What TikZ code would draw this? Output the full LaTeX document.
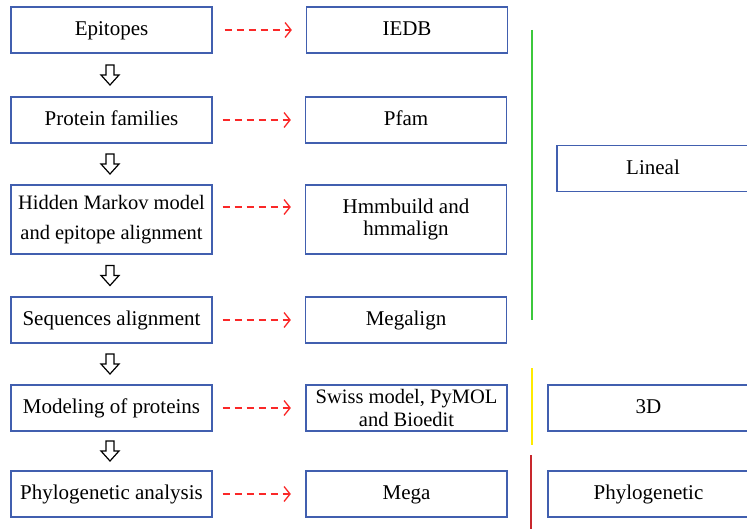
\documentclass[tikz,border=0pt]{standalone}
\usepackage{fontspec}
\setmainfont{Liberation Serif}
\usetikzlibrary{arrows.meta,calc}
\definecolor{boxblue}{RGB}{65,95,175}
\definecolor{dashred}{RGB}{250,40,40}
\definecolor{lgreen}{RGB}{60,200,60}
\definecolor{lyellow}{RGB}{255,235,0}
\definecolor{dred}{RGB}{200,40,45}
\tikzset{
  box/.style={draw=boxblue, line width=1.3pt, minimum width=201pt, minimum height=46pt,
    align=center, inner sep=1pt, font=\fontsize{21}{24}\selectfont},
  onebox/.style={box, text height=15.5pt, text depth=4pt},
  tallbox/.style={box, minimum height=69pt},
  dasharrow/.style={draw=dashred, line width=1.3pt, dash pattern=on 7pt off 5pt,
    -{Straight Barb[length=6pt,width=15pt,line width=1.3pt]}},
  hollow/.pic={\draw[line width=1.2pt, fill=white] (-4,-10)--(4,-10)--(4,0)--(9,0)--(0,10)--(-9,0)--(-4,0)--cycle;},
  vline/.style={line width=1.2pt}
}
\begin{document}
\begin{tikzpicture}[x=1pt,y=-1pt]
\useasboundingbox (0,0) rectangle (747,529);
% left column
\node[onebox] (e1) at (111.5,30) {Epitopes};
\node[onebox] (e2) at (111.5,120) {Protein families};
\node[tallbox, font=\fontsize{20.5}{30}\selectfont] (e3) at (111.5,219.5) {Hidden Markov model\\and epitope alignment};
\node[onebox] (e4) at (111.5,320) {Sequences alignment};
\node[onebox] (e5) at (111.5,408) {Modeling of proteins};
\node[onebox] (e6) at (111.5,494) {Phylogenetic analysis};
% middle column
\node[onebox] (m1) at (407,30) {IEDB};
\node[onebox] (m2) at (406,120) {Pfam};
\node[tallbox, font=\fontsize{21}{22}\selectfont] (m3) at (406,219.5) {Hmmbuild and\\hmmalign};
\node[onebox] (m4) at (406,320) {Megalign};
\node[box, font=\fontsize{20.5}{22.5}\selectfont] (m5) at (406.5,408) {Swiss model, PyMOL\\and Bioedit};
\node[onebox] (m6) at (406.5,494) {Mega};
% right column
\node[onebox, minimum width=192pt] (r1) at (653,168.5) {Lineal};
\node[onebox] (r2) at (648.5,408) {3D};
\node[onebox] (r3) at (648.5,494) {Phylogenetic};
% hollow arrows
\foreach \a/\b in {e1/e2,e2/e3,e3/e4,e4/e5,e5/e6}
  \pic at ($($(\a.south)!0.5!(\b.north)$)+(-1.5,0)$) {hollow};
% dashed arrows
\draw[dasharrow] ([xshift=12pt]e1.east) -- ([xshift=-14pt]m1.west);
\draw[dasharrow] ([xshift=10pt]e2.east) -- ([xshift=-14pt]m2.west);
\draw[dasharrow] ([xshift=10pt,yshift=12.5pt]e3.east) -- ([xshift=-14pt,yshift=12.5pt]m3.west);
\draw[dasharrow] ([xshift=10pt]e4.east) -- ([xshift=-14pt]m4.west);
\draw[dasharrow] ([xshift=10pt]e5.east) -- ([xshift=-14.5pt]m5.west);
\draw[dasharrow] ([xshift=10pt]e6.east) -- ([xshift=-14.5pt]m6.west);
% vertical lines
\coordinate (g1) at (532,30);
\coordinate (g2) at (532,320);
\coordinate (y1) at (532,368);
\coordinate (y2) at (532,445);
\coordinate (d1) at (531,455);
\coordinate (d2) at (531,529);
\draw[vline, lgreen] (g1) -- (g2);
\draw[vline, lyellow] (y1) -- (y2);
\draw[vline, dred] (d1) -- (d2);
\end{tikzpicture}
\end{document}
